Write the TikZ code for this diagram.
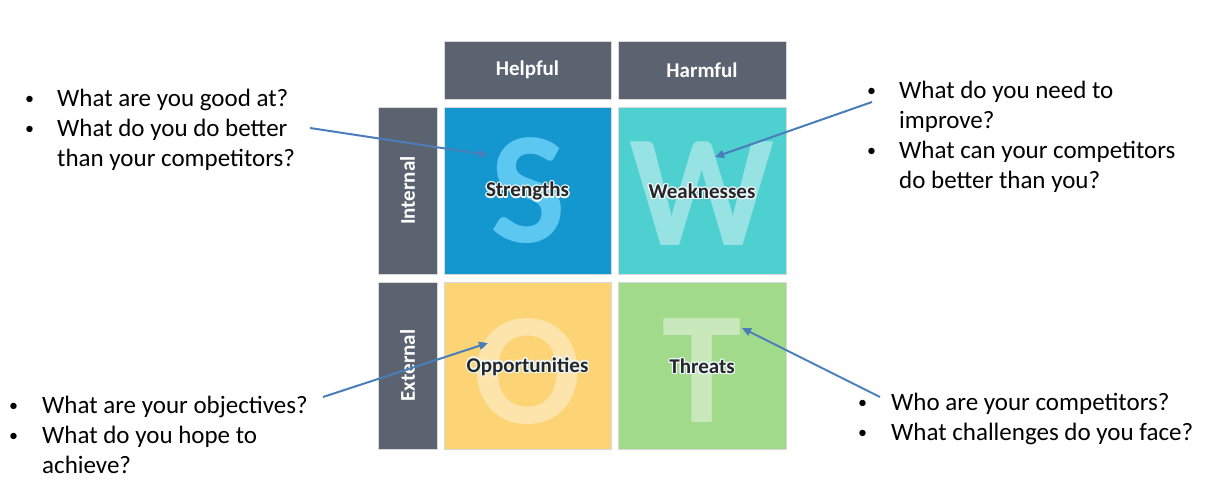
\documentclass[tikz,border=0pt]{standalone}
\usepackage{fontspec}
\setmainfont{Carlito}
\usepackage{contour}
\contourlength{1.2pt}
\contournumber{16}
\usetikzlibrary{arrows.meta}
\definecolor{hdr}{HTML}{5B6370}
\definecolor{sblue}{HTML}{1497CE}
\definecolor{sltr}{HTML}{5CC7F0}
\definecolor{wteal}{HTML}{4ECFD0}
\definecolor{wltr}{HTML}{97E2E2}
\definecolor{oyel}{HTML}{FCD476}
\definecolor{oltr}{HTML}{FDE4AB}
\definecolor{tgrn}{HTML}{A1DA8B}
\definecolor{tltr}{HTML}{C9E9BC}
\definecolor{arr}{HTML}{4A7EBB}
\definecolor{lbl}{HTML}{262626}
\tikzset{
  cell/.style={draw=white!85!black, line width=0.4pt, minimum width=167pt, minimum height=167pt, inner sep=0pt},
  hdrbox/.style={fill=hdr, draw=white!85!black, line width=0.4pt, inner sep=0pt, text=white, font=\fontsize{21}{24}\selectfont\bfseries},
  biglet/.style={anchor=base, inner sep=0pt, font=\fontsize{160}{160}\selectfont\bfseries},
  celllbl/.style={inner sep=0pt, text=lbl, font=\fontsize{21}{24}\selectfont\bfseries},
  qblock/.style={anchor=north west, inner sep=0pt, text=black, font=\fontsize{25}{30}\selectfont},
  pointer/.style={draw=arr, line width=2pt, -{Triangle[length=9pt,width=8pt]}}
}
\newcommand{\cl}[1]{\contour{white!90!sltr}{#1}}
\newcommand{\bul}{\raisebox{1.5pt}{\scalebox{0.72}{•}}}
\begin{document}
\begin{tikzpicture}[x=1pt,y=-1pt]
\useasboundingbox (0,0) rectangle (1215,484);
% headers
\node[hdrbox, minimum width=167pt, minimum height=58pt] (help) at (527.5,70) {Helpful};
\node[hdrbox, minimum width=168pt, minimum height=58pt] (harm) at (702,70) {Harmful};
\node[hdrbox, minimum width=59pt, minimum height=167pt] (intbar) at (407.5,190.5) {};
\node[hdrbox, minimum width=59pt, minimum height=167pt] (extbar) at (407.5,365.5) {};
\node[text=white, font=\fontsize{21}{24}\selectfont\bfseries, rotate=90, inner sep=0pt] (intl) at (intbar.center) {Internal};
\node[text=white, font=\fontsize{21}{24}\selectfont\bfseries, rotate=90, inner sep=0pt] (extl) at (extbar.center) {External};
% cells
\node[cell, fill=sblue] (S) at (527.5,190.5) {};
\node[cell, fill=wteal, minimum width=168pt] (W) at (702,190.5) {};
\node[cell, fill=oyel] (O) at (527.5,365.5) {};
\node[cell, fill=tgrn, minimum width=168pt] (T) at (702,365.5) {};
% big letters
\node[biglet, text=sltr] (Sl) at (528,242) {S};
\node[biglet, text=wltr] (Wl) at (702,245) {W};
\node[biglet, text=oltr] (Ol) at (528,423) {O};
\node[biglet, text=tltr] (Tl) at (702,422) {T};
% cell labels
\node[celllbl] (Slbl) at (527.5,192) {\cl{Strengths}};
\node[celllbl] (Wlbl) at (702,192) {\cl{Weaknesses}};
\node[celllbl] (Olbl) at (527.5,367) {\cl{Opportunities}};
\node[celllbl] (Tlbl) at (702,367) {\cl{Threats}};
% question blocks
\node[qblock] (qS) at (25,85) {\begin{tabular}{@{}p{32pt}@{}l@{}}
\bul & What are you good at?\\
\bul & What do you do better\\
  & than your competitors?
\end{tabular}};
\node[qblock] (qW) at (867,77) {\begin{tabular}{@{}p{32pt}@{}l@{}}
\bul & What do you need to\\
  & improve?\\
\bul & What can your competitors\\
  & do better than you?
\end{tabular}};
\node[qblock] (qO) at (9,392) {\begin{tabular}{@{}p{33pt}@{}l@{}}
\bul & What are your objectives?\\
\bul & What do you hope to\\
  & achieve?
\end{tabular}};
\node[qblock] (qT) at (858,389) {\begin{tabular}{@{}p{33pt}@{}l@{}}
\bul & Who are your competitors?\\
\bul & What challenges do you face?
\end{tabular}};
% arrows
\coordinate (aS0) at (310,128);
\coordinate (aS1) at (488,155);
\coordinate (aW0) at (872,102);
\coordinate (aW1) at (715,157);
\coordinate (aO0) at (323,397);
\coordinate (aO1) at (488,343);
\coordinate (aT0) at (880,397);
\coordinate (aT1) at (742,328);
\draw[pointer] (aS0) -- (aS1);
\draw[pointer] (aW0) -- (aW1);
\draw[pointer] (aO0) -- (aO1);
\draw[pointer] (aT0) -- (aT1);
\end{tikzpicture}
\end{document}
